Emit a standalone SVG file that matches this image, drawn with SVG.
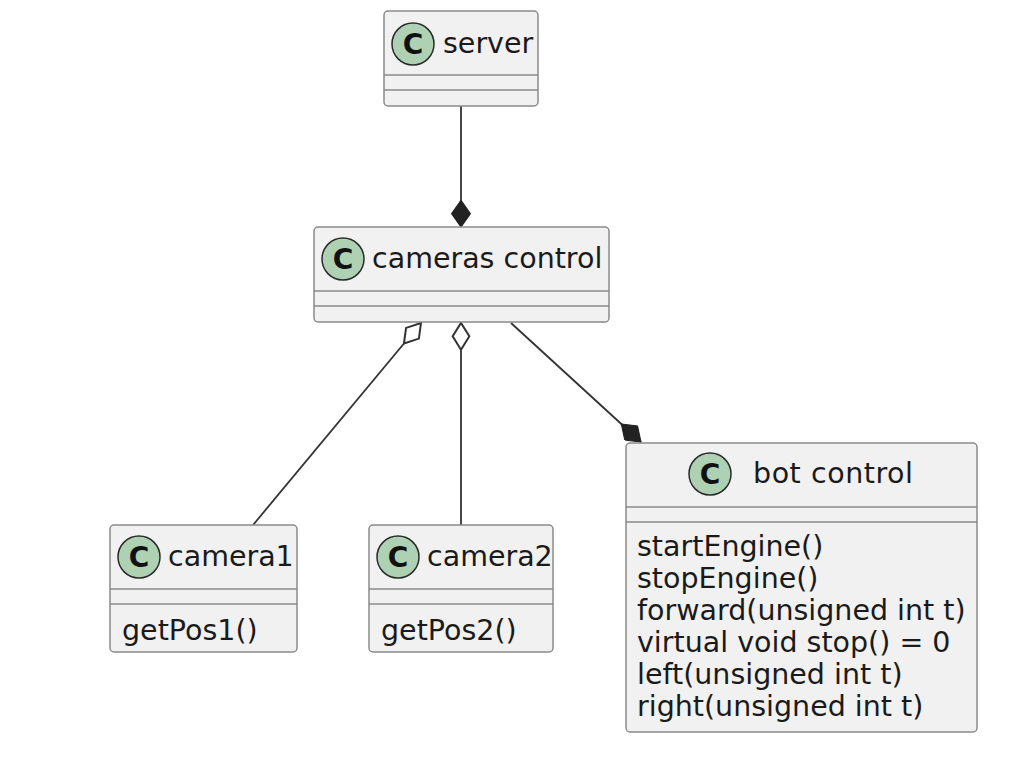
<svg xmlns="http://www.w3.org/2000/svg" width="1032" height="778" viewBox="0 0 1032 778">
<style>
.box{fill:#F1F1F1;stroke:#8a8a8a;stroke-width:1.5}
.sep{stroke:#8a8a8a;stroke-width:1.5}
.circ{fill:#ADD1B2;stroke:#2a2a2a;stroke-width:1.5}
.cl{font-family:"DejaVu Sans",sans-serif;font-size:28px;font-weight:bold;fill:#111;text-anchor:middle}
.t{font-family:"DejaVu Sans",sans-serif;font-size:28.5px;fill:#1a1a1a}
.ln{stroke:#333;stroke-width:1.8;fill:none}
</style>
<defs>
<marker id="fd" markerUnits="userSpaceOnUse" markerWidth="30" markerHeight="20" refX="24" refY="9" orient="auto" viewBox="0 0 26 18">
<path d="M0,9 L12,0.5 L24,9 L12,17.5 Z" fill="#222" stroke="#222" stroke-width="1"/>
</marker>
<marker id="hd" markerUnits="userSpaceOnUse" markerWidth="30" markerHeight="20" refX="24" refY="9" orient="auto" viewBox="0 0 26 18">
<path d="M0,9 L12,1.5 L24,9 L12,16.5 Z" fill="#fff" stroke="#333" stroke-width="1.8"/>
</marker>
</defs>
<g id="connectors">
<line class="ln" x1="461" y1="106" x2="461" y2="227" marker-end="url(#fd)"/>
<line class="ln" x1="253" y1="525" x2="421" y2="323" marker-end="url(#hd)"/>
<line class="ln" x1="461" y1="525" x2="461" y2="323" marker-end="url(#hd)"/>
<line class="ln" x1="511" y1="323" x2="641" y2="442" marker-end="url(#fd)"/>
</g>
<g id="server">
<rect class="box" x="384" y="11" width="154" height="95" rx="4"/>
<line class="sep" x1="384" y1="75" x2="538" y2="75"/>
<line class="sep" x1="384" y1="90" x2="538" y2="90"/>
<circle class="circ" cx="413" cy="44" r="21"/>
<text class="cl" x="413" y="54">C</text>
<text class="t" x="443" y="53">server</text>
</g>
<g id="cameras-control">
<rect class="box" x="314" y="227" width="295" height="95" rx="4"/>
<line class="sep" x1="314" y1="291" x2="609" y2="291"/>
<line class="sep" x1="314" y1="306" x2="609" y2="306"/>
<circle class="circ" cx="343" cy="259" r="21"/>
<text class="cl" x="343" y="269">C</text>
<text class="t" x="372" y="268">cameras control</text>
</g>
<g id="camera1">
<rect class="box" x="110" y="525" width="187" height="127" rx="4"/>
<line class="sep" x1="110" y1="589" x2="297" y2="589"/>
<line class="sep" x1="110" y1="604" x2="297" y2="604"/>
<circle class="circ" cx="139" cy="557" r="21"/>
<text class="cl" x="139" y="567">C</text>
<text class="t" x="168" y="566">camera1</text>
<text class="t" x="122" y="640">getPos1()</text>
</g>
<g id="camera2">
<rect class="box" x="369" y="525" width="184" height="127" rx="4"/>
<line class="sep" x1="369" y1="589" x2="553" y2="589"/>
<line class="sep" x1="369" y1="604" x2="553" y2="604"/>
<circle class="circ" cx="398" cy="557" r="21"/>
<text class="cl" x="398" y="567">C</text>
<text class="t" x="427" y="566">camera2</text>
<text class="t" x="381" y="640">getPos2()</text>
</g>
<g id="bot-control">
<rect class="box" x="626" y="443" width="351" height="289" rx="4"/>
<line class="sep" x1="626" y1="507" x2="977" y2="507"/>
<line class="sep" x1="626" y1="522" x2="977" y2="522"/>
<circle class="circ" cx="710" cy="474" r="21"/>
<text class="cl" x="710" y="484">C</text>
<text class="t" x="753" y="483" textLength="160">bot control</text>
<text class="t" x="637" y="556">startEngine()</text>
<text class="t" x="637" y="588">stopEngine()</text>
<text class="t" x="637" y="620">forward(unsigned int t)</text>
<text class="t" x="637" y="652">virtual void stop() = 0</text>
<text class="t" x="637" y="684">left(unsigned int t)</text>
<text class="t" x="637" y="716">right(unsigned int t)</text>
</g>
</svg>
